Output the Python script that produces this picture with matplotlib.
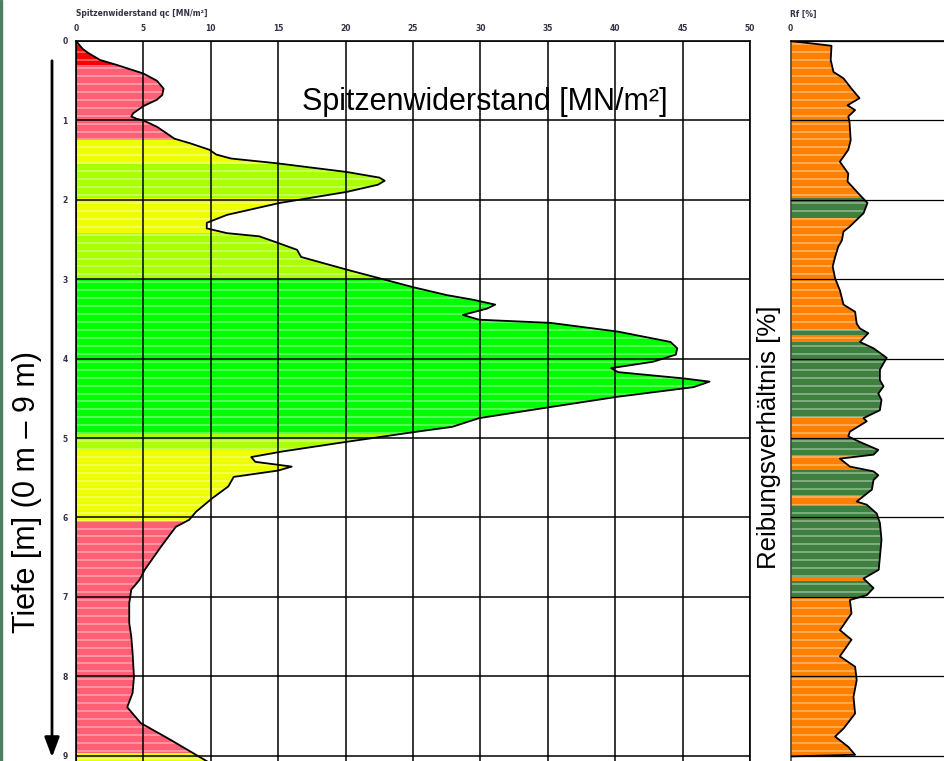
import numpy as np
import matplotlib
matplotlib.use("Agg")
import matplotlib.pyplot as plt
from matplotlib.patches import Polygon, Rectangle

# cone resistance qc [MN/m2] over depth [m]
qc_depth = [0.00, 0.10, 0.15, 0.24, 0.30, 0.41, 0.50, 0.60, 0.68, 0.74, 0.82, 0.91, 0.95, 0.98,
            1.00, 1.08, 1.16, 1.23, 1.29, 1.37, 1.43, 1.48, 1.54, 1.65, 1.72, 1.76, 1.81, 1.90,
            2.04, 2.19, 2.29, 2.36, 2.42, 2.46, 2.55, 2.63, 2.66, 2.72, 2.88, 3.10, 3.20, 3.26,
            3.32, 3.37, 3.45, 3.51, 3.55, 3.66, 3.79, 3.87, 3.95, 4.04, 4.12, 4.17, 4.25, 4.29,
            4.36, 4.48, 4.61, 4.75, 4.86, 4.92, 5.05, 5.17, 5.24, 5.30, 5.36, 5.41, 5.49, 5.61,
            5.76, 5.93, 6.03, 6.12, 6.37, 6.66, 6.79, 6.91, 7.08, 7.33, 7.50, 7.71, 8.01, 8.21,
            8.39, 8.59, 8.80, 9.05, 9.20]
qc = [0.0, 0.5, 0.9, 1.8, 3.0, 5.0, 6.0, 6.5, 6.4, 6.0, 5.0, 4.25, 4.1, 4.5,
      5.0, 6.0, 6.7, 7.3, 8.5, 9.9, 10.4, 11.5, 14.9, 20.1, 22.5, 22.9, 22.4, 20.1,
      15.1, 11.2, 9.7, 9.7, 11.2, 13.6, 15.1, 16.4, 16.5, 16.7, 20.1, 25.0, 27.5, 29.5,
      31.1, 30.5, 28.7, 29.9, 35.2, 40.2, 44.1, 44.6, 44.5, 42.8, 39.7, 40.2, 45.1, 47.0,
      45.8, 40.2, 35.2, 29.9, 27.9, 25.3, 20.0, 15.3, 13.0, 13.3, 16.0, 15.0, 11.7, 11.3,
      10.1, 8.9, 8.4, 7.4, 6.3, 5.1, 4.7, 4.1, 3.95, 3.95, 4.1, 4.2, 4.3, 4.2,
      3.8, 4.8, 7.0, 9.5, 11.0]

# soil layers for qc column
qc_layer_top = [0.00, 0.30, 1.25, 1.55, 1.98, 2.42, 3.00, 4.95, 5.15, 6.05, 8.97]
qc_layer_bot = [0.30, 1.25, 1.55, 1.98, 2.42, 3.00, 4.95, 5.15, 6.05, 8.97, 9.50]
qc_layer_col = ["#ff0000", "#ff5f75", "#eeff00", "#aaff00", "#eeff00", "#aaff00",
                "#00ff00", "#aaff00", "#eeff00", "#ff5f75", "#eeff00"]

# friction ratio Rf [%] over depth [m]
rf_depth = [0.00, 0.06, 0.24, 0.39, 0.47, 0.60, 0.72, 0.81, 0.87, 0.95, 1.02, 1.25, 1.37,
            1.52, 1.67, 1.77, 1.94, 2.04, 2.17, 2.34, 2.40, 2.51, 2.59, 2.72, 2.84, 2.99,
            3.14, 3.32, 3.41, 3.56, 3.62, 3.68, 3.79, 3.87, 3.99, 4.14, 4.27, 4.35, 4.44,
            4.52, 4.65, 4.75, 4.79, 4.92, 4.98, 5.05, 5.15, 5.21, 5.26, 5.36, 5.42, 5.47,
            5.53, 5.65, 5.80, 5.84, 5.95, 6.07, 6.28, 6.50, 6.66, 6.77, 6.89, 6.98, 7.04,
            7.21, 7.42, 7.54, 7.75, 7.88, 8.05, 8.26, 8.47, 8.66, 8.76, 8.89, 8.99, 9.01]
rf = [0.0, 1.02, 1.0, 1.07, 1.32, 1.52, 1.72, 1.42, 1.61, 1.44, 1.47, 1.50, 1.44,
      1.23, 1.44, 1.42, 1.73, 1.92, 1.82, 1.47, 1.32, 1.28, 1.19, 1.11, 1.05, 1.11,
      1.23, 1.32, 1.61, 1.65, 1.73, 1.94, 1.73, 2.07, 2.40, 2.23, 2.23, 2.32, 2.19,
      2.27, 2.23, 1.82, 1.90, 1.48, 1.44, 1.73, 2.19, 2.07, 1.23, 1.48, 2.07, 2.19,
      2.07, 2.03, 1.65, 1.90, 2.15, 2.23, 2.27, 2.23, 2.20, 1.82, 2.07, 1.90, 1.48,
      1.52, 1.23, 1.52, 1.23, 1.61, 1.65, 1.57, 1.61, 1.32, 1.11, 1.44, 1.61, 0.0]

rf_layer_top = [0.00, 1.98, 2.23, 3.64, 3.70, 3.79, 4.73, 5.00, 5.21, 5.40, 5.72, 5.84, 6.75, 6.80, 7.00]
rf_layer_bot = [1.98, 2.23, 3.64, 3.70, 3.79, 4.73, 5.00, 5.21, 5.40, 5.72, 5.84, 6.75, 6.80, 7.00, 9.50]
rf_layer_col = ["#ff8000", "#3f7f3f", "#ff8000", "#3f7f3f", "#ff8000", "#3f7f3f", "#ff8000",
                "#3f7f3f", "#ff8000", "#3f7f3f", "#ff8000", "#3f7f3f", "#ff8000", "#3f7f3f", "#ff8000"]

W, H = 945, 761
fig = plt.figure(figsize=(W / 100, H / 100), dpi=100)

px_m = 79.4
top = 41
ymax = 10.0
ax_h = ymax * px_m / H
ax_b = (H - top) / H - ax_h

ax1 = fig.add_axes([76 / W, ax_b, 674 / W, ax_h])
ax2 = fig.add_axes([790.7 / W, ax_b, 400 / W, ax_h])


def draw_column(ax, x, d, tops, bots, cols):
    verts = [(0, d[0])] + list(zip(x, d)) + [(0, d[-1])]
    poly = Polygon(verts, closed=True, facecolor="none", edgecolor="none")
    ax.add_patch(poly)
    for t, b, c in zip(tops, bots, cols):
        r = ax.axhspan(t, b, color=c, lw=0, zorder=1)
        r.set_clip_path(poly)
    stripes = np.arange(0.04, 9.5, 0.1)
    lc = ax.hlines(stripes, 0, 60, colors="white", alpha=0.35, lw=1.4, zorder=1.5)
    lc.set_clip_path(poly)
    ax.plot(x, d, color="black", lw=1.3, zorder=3)


draw_column(ax1, qc, qc_depth, qc_layer_top, qc_layer_bot, qc_layer_col)
draw_column(ax2, rf, rf_depth, rf_layer_top, rf_layer_bot, rf_layer_col)

ax1.set_xlim(0, 50)
ax2.set_xlim(0, 10)
for ax in (ax1, ax2):
    ax.set_ylim(ymax, 0)
    ax.set_yticks(range(0, 10))
    ax.set_axisbelow(False)
    ax.xaxis.tick_top()
    ax.tick_params(length=0, labelsize=5.5, labelcolor="#333344", pad=6)
    for s in ax.spines.values():
        s.set_linewidth(1.2)

ax1.set_xticks(range(0, 51, 5))
ax1.grid(True, color="black", lw=1.1)
ax2.set_xticks([0])
ax2.set_yticklabels([])
ax2.grid(True, axis="y", color="black", lw=0.9)
ax2.spines["left"].set_color("#444444")
for ax in (ax1, ax2):
    for lab in ax.get_xticklabels() + ax.get_yticklabels():
        lab.set_fontweight("bold")

fig.text(76 / W, 1 - 14 / H, "Spitzenwiderstand qc [MN/m²]", fontsize=5.5, fontweight="bold",
         color="#333344", va="center", ha="left")
fig.text(790 / W, 1 - 14 / H, "Rf [%]", fontsize=5.5, fontweight="bold",
         color="#333344", va="center", ha="left")

big = ["Liberation Sans Narrow", "Liberation Sans", "DejaVu Sans"]
fig.text(485 / W, 1 - 110 / H, "Spitzenwiderstand [MN/m²]", fontsize=22, family=big,
         ha="center", va="baseline")
fig.text(27 / W, 1 - 492 / H, "Tiefe [m] (0 m – 9 m)", fontsize=22, family=big,
         rotation=90, ha="center", va="center")
fig.text(769 / W, 1 - 437 / H, "Reibungsverhältnis [%]", fontsize=18.5, family=big,
         rotation=90, ha="center", va="center")

# depth arrow
fig.add_artist(matplotlib.text.Annotation(
    "", xy=(52 / W, 1 - 760 / H), xytext=(52 / W, 1 - 58 / H),
    xycoords="figure fraction",
    arrowprops=dict(arrowstyle="-|>,head_length=1.2,head_width=0.45", color="black", lw=2)))

# green frame edge on the left
fig.add_artist(Rectangle((0, 0), 2 / W, 1, transform=fig.transFigure, color="#4e8060"))

fig.savefig("out.png", dpi=100)
